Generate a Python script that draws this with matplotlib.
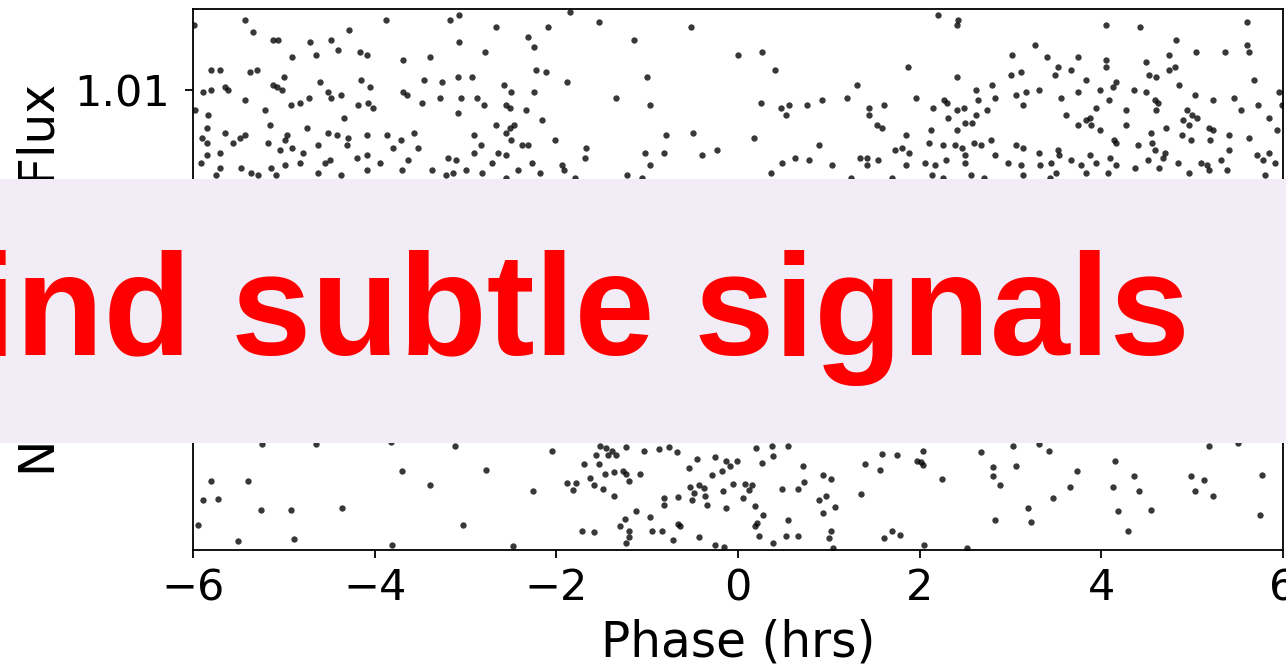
import matplotlib
matplotlib.use("Agg")
import matplotlib.pyplot as plt
from matplotlib.patches import Rectangle
from matplotlib.ticker import MultipleLocator, FormatStrFormatter

# out-of-transit points (upper band)
phase_top = [
    # -6 .. -3 hrs
    -5.99, -5.43, -5.34, -5.12, -5.06, -4.71, -4.48, -4.40, -4.28, -4.16,
    -4.09, -4.91, -4.65, -3.69, -3.39, -3.88, -3.17, -3.07, -3.07, -5.80,
    -5.70, -5.37, -5.30, -5.00, -5.12, -5.08, -5.02, -5.89, -5.80, -5.65,
    -5.61, -5.43, -4.92, -4.82, -4.72, -4.51, -4.48, -4.37, -4.60, -4.15,
    -4.05, -4.18, -4.07, -4.02, -3.69, -3.64, -3.48, -3.46, -3.28, -3.26,
    -3.08, -3.05, -3.08, -5.21, -5.84, -5.98, -5.15, -5.85, -4.34, -4.75,
    -4.51, -4.41, -5.65, -5.43, -5.48, -5.56, -5.90, -5.85, -4.97, -4.99,
    -4.91, -5.04, -5.17, -4.62, -4.29, -4.30, -4.09, -3.87, -3.80, -3.71,
    -3.57, -3.52, -5.70, -5.85, -5.91, -4.08, -4.20, -3.94, -3.63, -4.79,
    -4.55, -4.49, -4.82, -4.99, -5.14, -5.36, -5.28, -5.47, -5.70, -5.75,
    -4.62, -4.37, -4.09, -3.70, -3.37, -3.21, -3.14, -3.19, -3.11, -5.09,
    # -3 .. 0 hrs
    -2.67, -2.09, -1.85, -1.53, -2.31, -2.25, -2.79, -1.14, -0.52, -2.22,
    -2.11, -1.88, -2.93, -2.58, -2.50, -2.25, -2.87, -2.80, -2.55, -2.51,
    -2.33, -2.16, -2.67, -2.47, -2.51, -2.55, -2.91, -2.50, -2.38, -2.31,
    -2.83, -2.01, -2.91, -2.64, -2.55, -2.71, -2.27, -2.99, -2.82, -2.42,
    -2.18, -1.94, -1.92, -1.68, -1.67, -1.79, -1.34, -1.00, -0.97, -0.79,
    -0.50, -1.02, -0.81, -0.40, -0.23, -0.97, -1.22, -1.06, -2.55,
    # 0 .. 3 hrs
    2.20, 2.42, 2.41, 0.00, 0.26, 0.41, 1.87, 2.41, 3.02, 3.00,
    1.31, 2.80, 2.62, 2.83, 0.25, 0.47, 0.56, 0.53, 0.76, 0.92,
    1.20, 1.44, 1.44, 1.61, 1.96, 2.27, 2.30, 2.15, 2.41, 2.49,
    2.64, 2.74, 2.62, 2.31, 2.50, 2.58, 1.53, 1.58, 0.18, 2.12,
    2.41, 1.85, 0.89, 2.10, 2.26, 2.39, 2.47, 2.60, 2.67, 2.78,
    1.73, 1.80, 1.88, 1.34, 1.42, 0.63, 0.48, 0.78, 1.03, 1.42,
    1.54, 1.85, 2.06, 2.17, 2.29, 2.50, 2.50, 2.83, 2.97, 0.36,
    1.24, 1.69, 2.13, 2.26, 2.57, 2.71,
    # 3 .. 6 hrs
    4.05, 4.43, 5.60, 3.27, 4.82, 5.60, 5.63, 5.36, 5.04, 3.40,
    3.74, 4.05, 4.05, 4.74, 4.49, 3.12, 3.52, 3.49, 3.67, 4.74,
    4.81, 4.52, 4.60, 3.83, 4.16, 4.13, 4.86, 5.68, 3.06, 3.17,
    3.31, 3.56, 3.74, 3.98, 4.08, 4.36, 4.49, 5.03, 5.46, 5.96,
    3.14, 3.94, 4.59, 4.62, 4.27, 4.60, 4.94, 5.23, 5.72, 5.99,
    3.61, 3.87, 3.83, 5.00, 5.05, 4.90, 5.54, 5.85, 3.74, 3.89,
    3.98, 4.27, 4.71, 4.97, 5.19, 5.23, 5.93, 4.14, 4.55, 4.56,
    4.89, 4.99, 5.20, 5.40, 5.63, 3.06, 3.14, 3.31, 3.52, 3.53,
    4.40, 4.59, 4.70, 4.68, 4.16, 3.87, 3.12, 3.32, 3.45, 3.67,
    3.78, 3.94, 4.09, 4.16, 4.51, 4.84, 5.10, 5.16, 5.19, 5.32,
    5.41, 5.71, 5.78, 5.85, 5.91, 3.14, 3.43, 3.50, 3.83, 4.07,
    4.37, 4.63, 4.97, 5.38, 5.80,
]
flux_top = [
    1.0126, 1.0128, 1.0123, 1.0120, 1.0120, 1.0119, 1.0120, 1.0116, 1.0124, 1.0115,
    1.0114, 1.0113, 1.0114, 1.0112, 1.0113, 1.0128, 1.0128, 1.0130, 1.0119, 1.0108,
    1.0108, 1.0107, 1.0108, 1.0105, 1.0102, 1.0101, 1.0100, 1.0099, 1.0100, 1.0101,
    1.0100, 1.0096, 1.0094, 1.0095, 1.0097, 1.0099, 1.0097, 1.0098, 1.0103, 1.0104,
    1.0101, 1.0094, 1.0095, 1.0093, 1.0099, 1.0098, 1.0095, 1.0104, 1.0097, 1.0103,
    1.0105, 1.0097, 1.0091, 1.0092, 1.0090, 1.0092, 1.0086, 1.0085, 1.0089, 1.0085,
    1.0083, 1.0082, 1.0083, 1.0082, 1.0081, 1.0079, 1.0081, 1.0079, 1.0082, 1.0080,
    1.0077, 1.0076, 1.0079, 1.0078, 1.0081, 1.0078, 1.0082, 1.0082, 1.0077, 1.0080,
    1.0083, 1.0077, 1.0075, 1.0074, 1.0071, 1.0074, 1.0073, 1.0071, 1.0072, 1.0075,
    1.0071, 1.0072, 1.0071, 1.0070, 1.0069, 1.0067, 1.0066, 1.0069, 1.0069, 1.0066,
    1.0067, 1.0066, 1.0068, 1.0068, 1.0068, 1.0066, 1.0067, 1.0073, 1.0072, 1.0066,

    1.0125, 1.0125, 1.0131, 1.0127, 1.0121, 1.0117, 1.0115, 1.0120, 1.0125, 1.0108,
    1.0107, 1.0103, 1.0105, 1.0102, 1.0099, 1.0099, 1.0097, 1.0094, 1.0094, 1.0093,
    1.0092, 1.0088, 1.0086, 1.0086, 1.0085, 1.0083, 1.0082, 1.0080, 1.0078, 1.0078,
    1.0078, 1.0080, 1.0075, 1.0075, 1.0074, 1.0071, 1.0071, 1.0068, 1.0067, 1.0068,
    1.0067, 1.0070, 1.0068, 1.0073, 1.0077, 1.0065, 1.0097, 1.0105, 1.0094, 1.0082,
    1.0083, 1.0075, 1.0075, 1.0074, 1.0076, 1.0070, 1.0066, 1.0065, 1.0065,

    1.0130, 1.0128, 1.0126, 1.0114, 1.0115, 1.0108, 1.0109, 1.0105, 1.0114, 1.0106,
    1.0102, 1.0102, 1.0100, 1.0097, 1.0095, 1.0093, 1.0094, 1.0090, 1.0094, 1.0096,
    1.0097, 1.0093, 1.0090, 1.0094, 1.0097, 1.0096, 1.0095, 1.0093, 1.0092, 1.0093,
    1.0096, 1.0092, 1.0090, 1.0089, 1.0087, 1.0087, 1.0086, 1.0085, 1.0081, 1.0084,
    1.0084, 1.0082, 1.0078, 1.0079, 1.0078, 1.0078, 1.0077, 1.0079, 1.0078, 1.0080,
    1.0076, 1.0077, 1.0075, 1.0073, 1.0073, 1.0073, 1.0071, 1.0072, 1.0070, 1.0070,
    1.0072, 1.0070, 1.0071, 1.0070, 1.0072, 1.0074, 1.0071, 1.0074, 1.0071, 1.0067,
    1.0065, 1.0065, 1.0066, 1.0065, 1.0066, 1.0065,

    1.0126, 1.0125, 1.0127, 1.0118, 1.0120, 1.0118, 1.0115, 1.0115, 1.0115, 1.0113,
    1.0113, 1.0112, 1.0109, 1.0114, 1.0111, 1.0107, 1.0109, 1.0106, 1.0108, 1.0108,
    1.0109, 1.0106, 1.0105, 1.0104, 1.0103, 1.0101, 1.0102, 1.0104, 1.0098, 1.0099,
    1.0100, 1.0097, 1.0099, 1.0100, 1.0096, 1.0100, 1.0099, 1.0098, 1.0097, 1.0099,
    1.0094, 1.0093, 1.0096, 1.0095, 1.0092, 1.0092, 1.0092, 1.0096, 1.0094, 1.0094,
    1.0090, 1.0089, 1.0088, 1.0090, 1.0089, 1.0088, 1.0092, 1.0089, 1.0086, 1.0086,
    1.0084, 1.0086, 1.0085, 1.0086, 1.0085, 1.0084, 1.0084, 1.0080, 1.0083, 1.0079,
    1.0082, 1.0080, 1.0080, 1.0082, 1.0081, 1.0078, 1.0077, 1.0075, 1.0076, 1.0074,
    1.0078, 1.0076, 1.0075, 1.0073, 1.0079, 1.0074, 1.0070, 1.0070, 1.0071, 1.0072,
    1.0070, 1.0071, 1.0073, 1.0070, 1.0072, 1.0071, 1.0071, 1.0070, 1.0068, 1.0072,
    1.0076, 1.0074, 1.0072, 1.0075, 1.0071, 1.0066, 1.0065, 1.0067, 1.0067, 1.0067,
    1.0069, 1.0069, 1.0067, 1.0068, 1.0066,
]

# lower band, including the transit dip around phase 0
phase_low = [
    -5.24, -4.65, -3.82, -3.12, -5.80, -5.39, -5.89, -5.72, -5.25, -4.92,
    -4.36, -3.70, -3.39, -5.95, -5.50, -4.89, -3.81, -3.03,

    -2.05, -2.77, -2.26, -2.48, -1.52, -1.45, -1.39, -1.34, -1.43, -1.23,
    -1.56, -1.03, -0.87, -0.76, -0.67, -1.70, -1.53, -1.63, -1.59, -1.46,
    -1.37, -1.27, -1.23, -1.20, -1.08, -1.88, -1.78, -1.82, -1.49, -1.37,
    -0.45, -0.54, -0.25, -0.13, -0.09, -0.18, -0.29, -0.01, -0.05, -0.53,
    -0.43, -0.38, -0.49, -0.36, -0.17, -0.66, -0.81, -0.81, -0.51, -0.34,
    -0.13, -1.12, -1.24, -0.97, -1.30, -0.66, -0.64, -1.72, -1.59, -1.20,
    -1.20, -1.23, -0.95, -0.84, -0.72, -0.43, -0.25, -0.16,

    0.20, 0.37, 0.55, 0.26, 0.39, 0.72, 0.08, 0.15, 0.12, 0.06,
    0.48, 0.66, 0.73, 0.94, 1.02, 0.89, 0.97, 1.07, 0.93, 0.19,
    0.28, 0.21, 0.19, 0.55, 0.23, 0.39, 0.53, 0.66, 1.02, 1.00,
    1.04, 1.35, 1.40, 1.56, 1.59, 1.75, 1.97, 2.01, 2.04, 2.04,
    2.24, 1.61, 1.69, 1.78, 2.05, 2.67, 2.81, 2.81, 2.88, 2.83,
    2.52,

    3.03, 3.31, 3.42, 3.06, 3.73, 4.15, 3.66, 3.47, 3.19, 3.23,
    4.36, 4.13, 4.41, 4.18, 4.55, 4.29, 4.99, 5.13, 5.03, 5.23,
    5.19, 5.50, 5.77, 5.75,
]
flux_low = [
    0.99584, 0.99584, 0.99592, 0.99575, 0.99435, 0.99435, 0.99359, 0.99364, 0.99321, 0.99321,
    0.99328, 0.99477, 0.99419, 0.99259, 0.99197, 0.99204, 0.99181, 0.99259,

    0.99557, 0.99481, 0.99397, 0.99175, 0.99575, 0.99568, 0.99557, 0.99539, 0.99539, 0.99571,
    0.99541, 0.99557, 0.99565, 0.99571, 0.99552, 0.99504, 0.99504, 0.99448, 0.99421, 0.99464,
    0.99471, 0.99477, 0.99464, 0.99435, 0.99464, 0.99428, 0.99428, 0.99401, 0.99405, 0.99377,
    0.99525, 0.99488, 0.99531, 0.99517, 0.99495, 0.99475, 0.99461, 0.99517, 0.99424, 0.99411,
    0.99421, 0.99408, 0.99388, 0.99375, 0.99397, 0.99371, 0.99368, 0.99341, 0.99361, 0.99341,
    0.99328, 0.99317, 0.99284, 0.99291, 0.99257, 0.99264, 0.99255, 0.99237, 0.99231, 0.99237,
    0.99211, 0.99188, 0.99237, 0.99237, 0.99201, 0.99211, 0.99181, 0.99171,

    0.99568, 0.99575, 0.99575, 0.99508, 0.99535, 0.99495, 0.99424, 0.99421, 0.99401, 0.99368,
    0.99404, 0.99404, 0.99432, 0.99461, 0.99445, 0.99361, 0.99375, 0.99332, 0.99308, 0.99335,
    0.99299, 0.99268, 0.99255, 0.99281, 0.99215, 0.99188, 0.99215, 0.99215, 0.99237, 0.99208,
    0.99170, 0.99384, 0.99504, 0.99481, 0.99544, 0.99539, 0.99515, 0.99512, 0.99499, 0.99557,
    0.99445, 0.99208, 0.99237, 0.99221, 0.99181, 0.99552, 0.99491, 0.99455, 0.99419, 0.99281,
    0.99168,

    0.99575, 0.99584, 0.99557, 0.99495, 0.99475, 0.99515, 0.99411, 0.99368, 0.99328, 0.99272,
    0.99455, 0.99411, 0.99397, 0.99315, 0.99321, 0.99237, 0.99455, 0.99441, 0.99397, 0.99375,
    0.99575, 0.99588, 0.99461, 0.99299,
]

phase = phase_top + phase_low
flux = flux_top + flux_low

fig = plt.figure(figsize=(12.86, 6.64), dpi=100)
ax = fig.add_axes([0.1501, 0.1724, 0.8476, 0.8133])

ax.scatter(phase, flux, s=21, color="k", alpha=0.78, linewidths=0)

ax.set_xlim(-6, 6)
ax.set_ylim(0.99162, 1.01322)
ax.xaxis.set_major_locator(MultipleLocator(2))
ax.yaxis.set_major_locator(MultipleLocator(0.01))
ax.yaxis.set_major_formatter(FormatStrFormatter("%.2f"))

for s in ax.spines.values():
    s.set_linewidth(1.3)
ax.tick_params(axis="both", labelsize=31, length=5.8, width=1.3)
ax.tick_params(axis="x", pad=7)
ax.tick_params(axis="y", pad=10.5)

ax.set_xlabel("Phase (hrs)", fontsize=35)
ax.set_ylabel("Normalized Flux", fontsize=35)
ax.xaxis.set_label_coords(0.5, -0.127)
ax.yaxis.set_label_coords(-0.118, 0.5)

# banner across the middle of the figure
fig.add_artist(Rectangle((0, 0.3328), 1, 0.3976, transform=fig.transFigure,
                         facecolor="#F1ECF5", edgecolor="none", zorder=10))
fig.text(1190 / 1286, 0.4654, "Find subtle signals", ha="right", va="baseline",
         fontsize=103.5, fontweight="bold", family="Liberation Sans",
         color="#FF0000", zorder=11)

fig.savefig("out.png", dpi=100)
